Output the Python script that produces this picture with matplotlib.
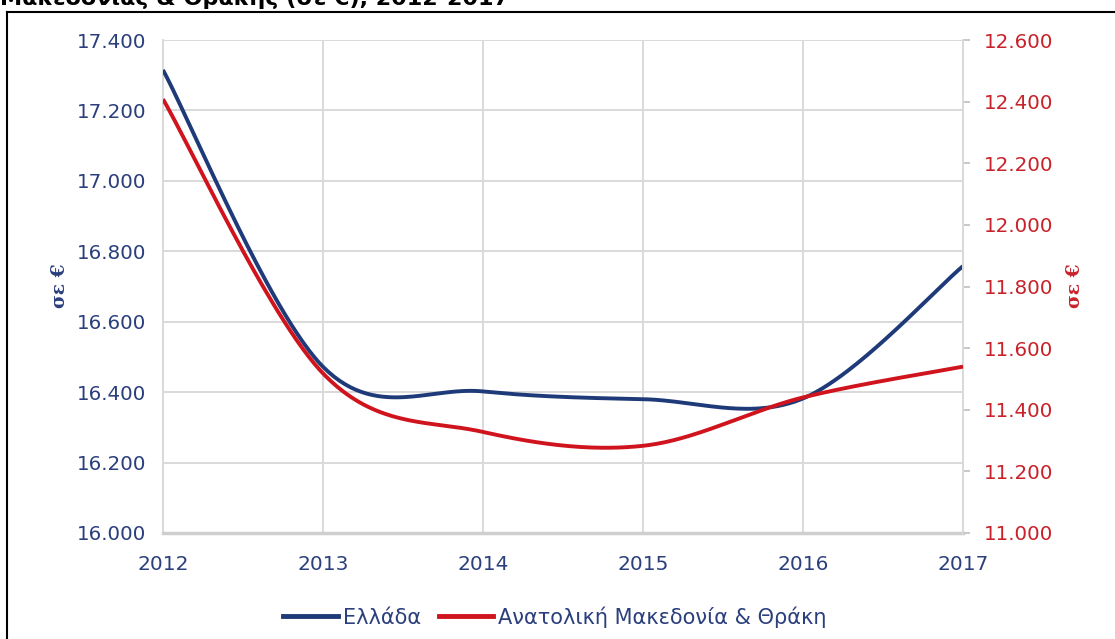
import numpy as np
import matplotlib
matplotlib.use("Agg")
import matplotlib.pyplot as plt
from matplotlib.lines import Line2D

years = [2012, 2013, 2014, 2015, 2016, 2017]
greece = [17315, 16472, 16402, 16380, 16382, 16758]
amth = [12408, 11518, 11328, 11283, 11440, 11540]
left_ticks = [16000, 16200, 16400, 16600, 16800, 17000, 17200, 17400]
right_ticks = [11000, 11200, 11400, 11600, 11800, 12000, 12200, 12400, 12600]
series_names = ["Ελλάδα", "Ανατολική Μακεδονία & Θράκη"]
title = "Μακεδονίας & Θράκης (σε €), 2012-2017"
ylabel = "σε €"

BLUE = "#1f3a78"
RED = "#d0141e"
TICK_BLUE = "#2b3f7d"
TICK_RED = "#c8232b"
GRID = "#d9d9d9"


def smooth(x, y, n=60):
    x = np.asarray(x, float)
    y = np.asarray(y, float)
    px = np.concatenate([[x[0]], x, [x[-1]]])
    py = np.concatenate([[y[0]], y, [y[-1]]])
    xs, ys = [], []
    t = np.linspace(0, 1, n)
    for i in range(1, len(px) - 2):
        p0 = np.array([px[i], py[i]])
        p3 = np.array([px[i + 1], py[i + 1]])
        c1 = p0 + (np.array([px[i + 1], py[i + 1]]) - np.array([px[i - 1], py[i - 1]])) / 6.0
        c2 = p3 - (np.array([px[i + 2], py[i + 2]]) - np.array([px[i], py[i]])) / 6.0
        b = ((1 - t) ** 3)[:, None] * p0 + (3 * (1 - t) ** 2 * t)[:, None] * c1 \
            + (3 * (1 - t) * t ** 2)[:, None] * c2 + (t ** 3)[:, None] * p3
        xs.append(b[:, 0])
        ys.append(b[:, 1])
    return np.concatenate(xs), np.concatenate(ys)


fig = plt.figure(figsize=(11.15, 6.39), dpi=100)
ax = fig.add_axes([163 / 1115, 1 - 533 / 639, 800 / 1115, 493 / 639])
ax2 = ax.twinx()

sx, sy = smooth(years, greece)
ax.plot(sx, sy, color=BLUE, lw=2.8, solid_capstyle="butt", zorder=3)
rx, ry = smooth(years, amth)
ax2.plot(rx, ry, color=RED, lw=2.8, solid_capstyle="butt", zorder=3)

ax.set_xlim(years[0], years[-1])
ax.set_ylim(left_ticks[0], left_ticks[-1])
ax2.set_ylim(right_ticks[0], right_ticks[-1])
ax.set_xticks(years)
ax.set_xticklabels([str(y) for y in years])
ax.set_yticks(left_ticks)
ax.set_yticklabels([f"{v/1000:.3f}" for v in left_ticks])
ax2.set_yticks(right_ticks)
ax2.set_yticklabels([f"{v/1000:.3f}" for v in right_ticks])

ax.grid(True, color=GRID, lw=1.4)
ax.set_axisbelow(True)
for s in ["top"]:
    ax.spines[s].set_visible(False)
    ax2.spines[s].set_visible(False)
ax.spines["right"].set_visible(False)
ax2.spines["left"].set_visible(False)
ax2.spines["bottom"].set_visible(False)
ax.spines["left"].set_color(GRID)
ax.spines["left"].set_linewidth(1.4)
ax.spines["bottom"].set_color("#cfcfcf")
ax.spines["bottom"].set_linewidth(2.5)
ax2.spines["right"].set_color(GRID)
ax2.spines["right"].set_linewidth(1.4)

ax.tick_params(axis="y", length=0, pad=12, labelsize=14.3, labelcolor=TICK_BLUE)
ax.tick_params(axis="x", length=0, pad=16, labelsize=14.5, labelcolor=TICK_BLUE)
ax2.tick_params(axis="y", length=5, width=1.2, color="#bfbfbf", pad=10,
                labelsize=14.3, labelcolor=TICK_RED)

fig.text(60 / 1115, 1 - 286 / 639, ylabel, rotation=90, ha="center", va="center",
         color=TICK_BLUE, fontsize=13.5, fontweight="bold", family="DejaVu Serif")
fig.text(1075 / 1115, 1 - 286 / 639, ylabel, rotation=90, ha="center", va="center",
         color=TICK_RED, fontsize=13.5, fontweight="bold", family="DejaVu Serif")

handles = [Line2D([0], [0], color=BLUE, lw=3.5), Line2D([0], [0], color=RED, lw=3.5)]
fig.legend(handles, series_names, loc="center", bbox_to_anchor=(555 / 1115, 1 - 617 / 639),
           ncol=2, frameon=False, fontsize=15, handlelength=2.6, handletextpad=0.25,
           columnspacing=0.85, labelcolor=TICK_BLUE)

fig.text(0.0, 1 - 5 / 639, title, ha="left", va="baseline", fontsize=16,
         fontweight="bold", color="black")

# outer frame (top and left edges visible)
fig.add_artist(Line2D([7 / 1115, 1.0], [1 - 12 / 639, 1 - 12 / 639], color="black", lw=1.5,
                      transform=fig.transFigure))
fig.add_artist(Line2D([7 / 1115, 7 / 1115], [1 - 12 / 639, 0.0], color="black", lw=1.5,
                      transform=fig.transFigure))

fig.savefig("out.png", dpi=100)
